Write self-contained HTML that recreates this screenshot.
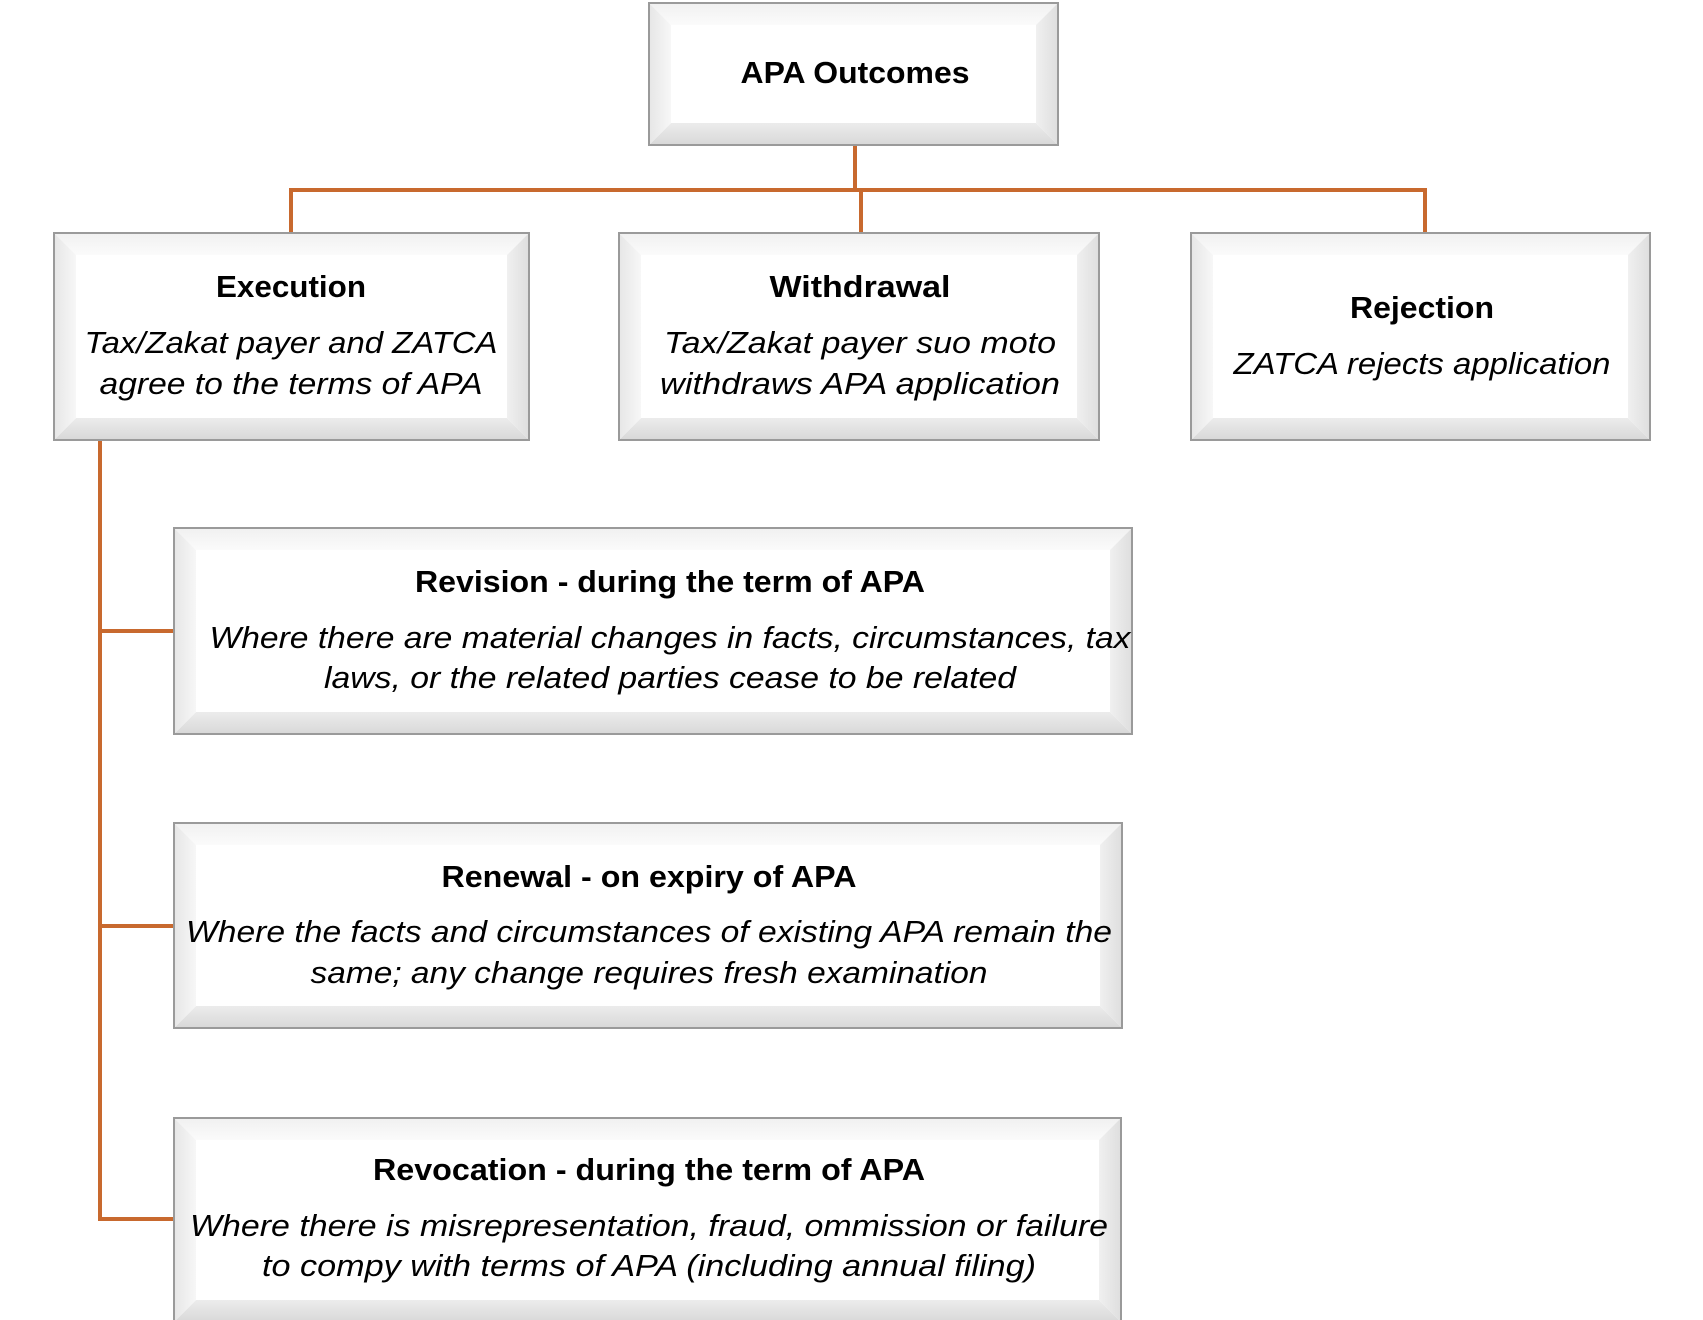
<!DOCTYPE html>
<html><head><meta charset="utf-8"><style>
html,body{margin:0;padding:0;background:#fff;width:1703px;height:1320px;overflow:hidden}
text{font-family:"Liberation Sans",sans-serif;font-size:31px;fill:#000}
.b{font-weight:bold}.i{font-style:italic}
.c{fill:#fff}.t{fill:url(#tb)}.bo{fill:url(#bb)}.l{fill:url(#lb)}.r{fill:url(#rb)}.o{fill:none;stroke:#9a9a9a;stroke-width:2}
</style></head><body>
<svg width="1703" height="1320" viewBox="0 0 1703 1320" xmlns="http://www.w3.org/2000/svg">
<defs>
<linearGradient id="tb" x1="0" y1="0" x2="0" y2="1"><stop offset="0" stop-color="#f0f0f0"/><stop offset="1" stop-color="#fbfbfb"/></linearGradient>
<linearGradient id="bb" x1="0" y1="0" x2="0" y2="1"><stop offset="0" stop-color="#ececec"/><stop offset="1" stop-color="#d8d8d8"/></linearGradient>
<linearGradient id="lb" x1="0" y1="0" x2="1" y2="0"><stop offset="0" stop-color="#e6e6e6"/><stop offset="1" stop-color="#f7f7f7"/></linearGradient>
<linearGradient id="rb" x1="0" y1="0" x2="1" y2="0"><stop offset="0" stop-color="#f0f0f0"/><stop offset="1" stop-color="#dedede"/></linearGradient>
</defs>
<g stroke="#c8692e" stroke-width="4" fill="none">
<path d="M855 145V190M291 190H1425M291 188V233M861 190V233M1425 188V233"/>
<path d="M100 440V1221M98 631H174M98 926H174M98 1219H174"/>
</g>

<rect class="c" x="649" y="3" width="409" height="142"/>
<polygon class="t" points="649,3 1058,3 1036,25 671,25"/>
<polygon class="bo" points="649,145 1058,145 1036,123 671,123"/>
<polygon class="l" points="649,3 671,25 671,123 649,145"/>
<polygon class="r" points="1058,3 1036,25 1036,123 1058,145"/>
<rect class="o" x="649" y="3" width="409" height="142"/>

<rect class="c" x="54" y="233" width="475" height="207"/>
<polygon class="t" points="54,233 529,233 507,255 76,255"/>
<polygon class="bo" points="54,440 529,440 507,418 76,418"/>
<polygon class="l" points="54,233 76,255 76,418 54,440"/>
<polygon class="r" points="529,233 507,255 507,418 529,440"/>
<rect class="o" x="54" y="233" width="475" height="207"/>

<rect class="c" x="619" y="233" width="480" height="207"/>
<polygon class="t" points="619,233 1099,233 1077,255 641,255"/>
<polygon class="bo" points="619,440 1099,440 1077,418 641,418"/>
<polygon class="l" points="619,233 641,255 641,418 619,440"/>
<polygon class="r" points="1099,233 1077,255 1077,418 1099,440"/>
<rect class="o" x="619" y="233" width="480" height="207"/>

<rect class="c" x="1191" y="233" width="459" height="207"/>
<polygon class="t" points="1191,233 1650,233 1628,255 1213,255"/>
<polygon class="bo" points="1191,440 1650,440 1628,418 1213,418"/>
<polygon class="l" points="1191,233 1213,255 1213,418 1191,440"/>
<polygon class="r" points="1650,233 1628,255 1628,418 1650,440"/>
<rect class="o" x="1191" y="233" width="459" height="207"/>

<rect class="c" x="174" y="528" width="958" height="206"/>
<polygon class="t" points="174,528 1132,528 1110,550 196,550"/>
<polygon class="bo" points="174,734 1132,734 1110,712 196,712"/>
<polygon class="l" points="174,528 196,550 196,712 174,734"/>
<polygon class="r" points="1132,528 1110,550 1110,712 1132,734"/>
<rect class="o" x="174" y="528" width="958" height="206"/>

<rect class="c" x="174" y="823" width="948" height="205"/>
<polygon class="t" points="174,823 1122,823 1100,845 196,845"/>
<polygon class="bo" points="174,1028 1122,1028 1100,1006 196,1006"/>
<polygon class="l" points="174,823 196,845 196,1006 174,1028"/>
<polygon class="r" points="1122,823 1100,845 1100,1006 1122,1028"/>
<rect class="o" x="174" y="823" width="948" height="205"/>

<rect class="c" x="174" y="1118" width="947" height="204"/>
<polygon class="t" points="174,1118 1121,1118 1099,1140 196,1140"/>
<polygon class="bo" points="174,1322 1121,1322 1099,1300 196,1300"/>
<polygon class="l" points="174,1118 196,1140 196,1300 174,1322"/>
<polygon class="r" points="1121,1118 1099,1140 1099,1300 1121,1322"/>
<rect class="o" x="174" y="1118" width="947" height="204"/>

<g text-anchor="middle">
<text class="b" x="855" y="83" textLength="229" lengthAdjust="spacingAndGlyphs">APA Outcomes</text>
<text class="b" x="291" y="297" textLength="150" lengthAdjust="spacingAndGlyphs">Execution</text>
<text class="i" x="291" y="353" textLength="413" lengthAdjust="spacingAndGlyphs">Tax/Zakat payer and ZATCA</text>
<text class="i" x="291" y="394" textLength="383" lengthAdjust="spacingAndGlyphs">agree to the terms of APA</text>
<text class="b" x="860" y="297" textLength="181" lengthAdjust="spacingAndGlyphs">Withdrawal</text>
<text class="i" x="860" y="353" textLength="392" lengthAdjust="spacingAndGlyphs">Tax/Zakat payer suo moto</text>
<text class="i" x="860" y="394" textLength="400" lengthAdjust="spacingAndGlyphs">withdraws APA application</text>
<text class="b" x="1422" y="318" textLength="144" lengthAdjust="spacingAndGlyphs">Rejection</text>
<text class="i" x="1422" y="374" textLength="377" lengthAdjust="spacingAndGlyphs">ZATCA rejects application</text>
<text class="b" x="670" y="592" textLength="510" lengthAdjust="spacingAndGlyphs">Revision - during the term of APA</text>
<text class="i" x="670" y="648" textLength="921" lengthAdjust="spacingAndGlyphs">Where there are material changes in facts, circumstances, tax</text>
<text class="i" x="670" y="688" textLength="692" lengthAdjust="spacingAndGlyphs">laws, or the related parties cease to be related</text>
<text class="b" x="649" y="887" textLength="415" lengthAdjust="spacingAndGlyphs">Renewal - on expiry of APA</text>
<text class="i" x="649" y="942" textLength="926" lengthAdjust="spacingAndGlyphs">Where the facts and circumstances of existing APA remain the</text>
<text class="i" x="649" y="983" textLength="677" lengthAdjust="spacingAndGlyphs">same; any change requires fresh examination</text>
<text class="b" x="649" y="1180" textLength="552" lengthAdjust="spacingAndGlyphs">Revocation - during the term of APA</text>
<text class="i" x="649" y="1236" textLength="918" lengthAdjust="spacingAndGlyphs">Where there is misrepresentation, fraud, ommission or failure</text>
<text class="i" x="649" y="1276" textLength="774" lengthAdjust="spacingAndGlyphs">to compy with terms of APA (including annual filing)</text>
</g>
</svg>
</body></html>
